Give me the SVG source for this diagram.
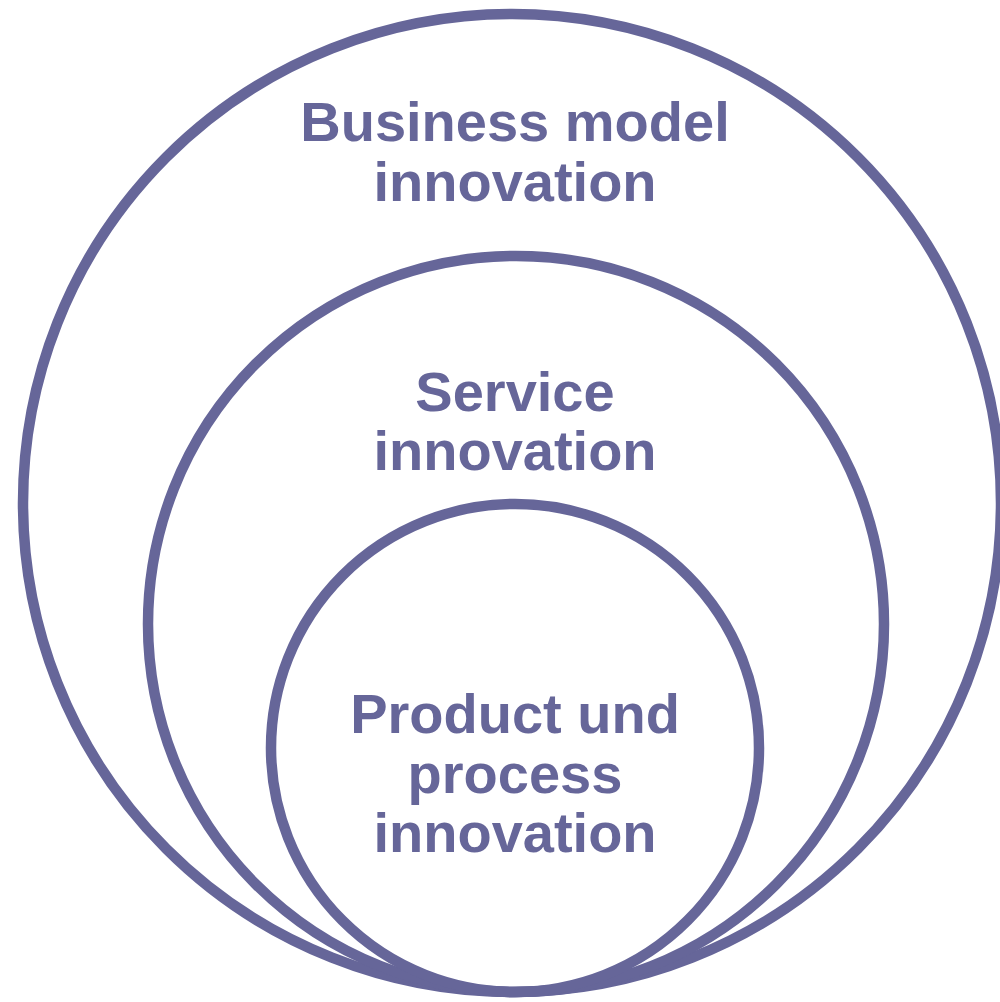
<svg xmlns="http://www.w3.org/2000/svg" width="1000" height="1002" viewBox="0 0 1000 1002">
<style>
.ring{fill:none;stroke:#666699;stroke-width:10.5}
.lbl{font-family:"Liberation Sans",Arial,sans-serif;font-weight:bold;font-size:56px;fill:#666699;text-anchor:middle}
</style>
<rect width="1000" height="1002" fill="#ffffff"/>
<g id="business-model">
<circle class="ring" cx="512" cy="503" r="489"/>
<text class="lbl" x="515" y="141">Business model</text>
<text class="lbl" x="515" y="201">innovation</text>
</g>
<g id="service">
<circle class="ring" cx="516" cy="624" r="368"/>
<text class="lbl" x="515" y="411">Service</text>
<text class="lbl" x="515" y="470">innovation</text>
</g>
<g id="product-process">
<circle class="ring" cx="515" cy="748" r="244"/>
<text class="lbl" x="515" y="733">Product und</text>
<text class="lbl" x="515" y="793">process</text>
<text class="lbl" x="515" y="852">innovation</text>
</g>
<g id="connectors"></g>
</svg>
